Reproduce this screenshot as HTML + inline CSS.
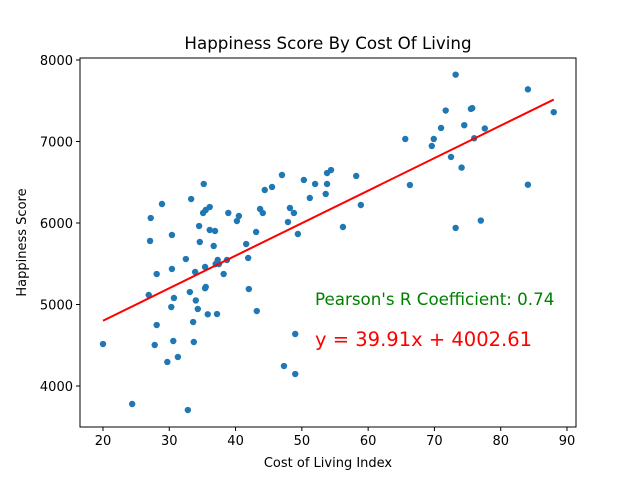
<!DOCTYPE html>
<html><head><meta charset="utf-8">
<style>body{margin:0;background:#fff}svg{display:block;font-family:"DejaVu Sans","Liberation Sans",sans-serif}</style>
</head><body>
<svg id="chart" width="640" height="480" viewBox="0 0 640 480"></svg>
<script>
const costIndex=[20.0,24.4,26.9,27.1,27.2,27.8,28.1,28.1,28.9,29.7,30.3,30.4,30.4,30.6,30.7,31.3,32.5,32.8,33.1,33.3,33.6,33.7,34.0,33.9,34.3,34.5,34.6,35.1,35.2,35.4,35.5,35.4,35.5,35.8,36.1,36.1,36.7,36.9,37.0,37.2,37.3,37.5,38.2,38.7,38.9,40.2,40.5,41.6,41.9,42.0,43.1,43.2,43.7,44.1,44.4,45.5,47.0,47.3,47.9,48.2,48.8,49.0,49.0,49.4,50.3,51.2,52.0,53.6,53.8,53.8,54.4,56.2,58.2,58.9,65.6,66.3,69.6,69.9,71.0,71.7,72.5,75.5,73.2,73.2,74.5,77.0,75.7,76.0,77.6,74.1,84.1,84.1,88.0];
const happiness=[4515,3779,5117,5780,6061,4503,5374,4748,6233,4295,4969,5853,5436,4552,5080,4356,5558,3705,5153,6294,4785,4540,5050,5399,4945,5963,5767,6123,6479,5200,5215,5460,6160,4880,6196,5914,5718,5902,5497,4883,5546,5497,5374,5546,6123,6024,6086,5742,5571,5190,5890,4920,6172,6123,6405,6442,6589,4245,6012,6184,6123,4638,4147,5865,6528,6307,6479,6356,6613,6479,6650,5951,6577,6221,7031,6466,6945,7031,7166,7380,6810,7400,5940,7820,7200,6030,7410,7040,7160,6680,7640,6470,7360];
const xTicks=[20,30,40,50,60,70,80,90];
const yTicks=[4000,5000,6000,7000,8000];
const slope=39.91, intercept=4002.61, pearson=0.74;

const svg=document.getElementById('chart');
const NS='http://www.w3.org/2000/svg';
const L=80,R=576,T=58,B=427;
const xs=v=>103+(v-20)*(567-103)/70;
const ys=v=>386-(v-4000)*(386-60)/4000;
function mk(tag,attrs,parent){const e=document.createElementNS(NS,tag);for(const k in attrs)e.setAttribute(k,attrs[k]);(parent||svg).appendChild(e);return e;}

const frame=mk('rect',{x:L,y:T,width:R-L,height:B-T,fill:'none',stroke:'#000','stroke-width':1});



const title=mk('text',{x:(L+R)/2,y:49,'text-anchor':'middle','font-size':'16.7px',fill:'#000'});
title.textContent='Happiness Score By Cost Of Living';



xTicks.forEach(t=>{
  const x=xs(t);
  const tk=mk('line',{x1:x,x2:x,y1:B,y2:B+4,stroke:'#000'});
  
  
  const lb=mk('text',{x:x,y:B+18,'text-anchor':'middle','font-size':'13px'});
  lb.textContent=t;
  
  
});
yTicks.forEach(t=>{
  const y=ys(t);
  const tk=mk('line',{x1:L-4,x2:L,y1:y,y2:y,stroke:'#000'});
  
  
  const lb=mk('text',{x:L-7,y:y+5,'text-anchor':'end','font-size':'13px'});
  lb.textContent=t;
  
  
});
const xt=mk('text',{x:(L+R)/2,y:467,'text-anchor':'middle','font-size':'13px'});
xt.textContent='Cost of Living Index';


const yt=mk('text',{x:26,y:(T+B)/2,'text-anchor':'middle','font-size':'13px',transform:'rotate(-90 26 '+((T+B)/2)+')'});
yt.textContent='Happiness Score';



costIndex.forEach((c,i)=>{
  const p=mk('circle',{cx:xs(c),cy:ys(happiness[i]),r:3.2,fill:'#1f77b4'});
  
  
});

const xmin=Math.min(...costIndex),xmax=Math.max(...costIndex);
const reg=mk('line',{x1:xs(xmin),y1:ys(slope*xmin+intercept),x2:xs(xmax),y2:ys(slope*xmax+intercept),stroke:'#ff0000','stroke-width':2});



const pr=mk('text',{x:315,y:305,'font-size':'16.7px',fill:'#008000'});
pr.textContent="Pearson's R Coefficient: "+pearson.toFixed(2);


const eq=mk('text',{x:315,y:346,'font-size':'19.5px',fill:'#ff0000'});
eq.textContent='y = '+slope.toFixed(2)+'x + '+intercept.toFixed(2);


</script>
</body></html>
